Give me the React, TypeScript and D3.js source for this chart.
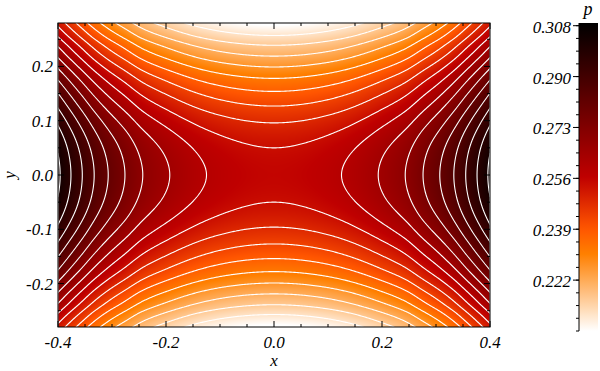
import React, { useMemo } from "react";
import * as d3 from "d3";

// ---- data ----
const X_RANGE = [-0.4, 0.4];
const Y_RANGE = [-0.28, 0.28];
const P_RANGE = [0.2049, 0.3075];
const pCenter = 0.2553;
// pressure along y = 0 (symmetric in x), at the contour crossings
const xKnots = [0, 0.125, 0.193, 0.243, 0.276, 0.307, 0.333, 0.355, 0.376, 0.396, 0.4];
const pAlongX = [0.2553, 0.2589, 0.2643, 0.2697, 0.2751, 0.2805, 0.2859, 0.2913, 0.2967, 0.3021, 0.3032];
// pressure along x = 0 (symmetric in y)
const yKnots = [0, 0.05, 0.096, 0.127, 0.154, 0.178, 0.199, 0.219, 0.239, 0.257, 0.276, 0.28];
const pAlongY = [0.2553, 0.2535, 0.2481, 0.2427, 0.2373, 0.2319, 0.2265, 0.2211, 0.2157, 0.2103, 0.2049, 0.2038];
const contourLevels = [
  0.2049, 0.2103, 0.2157, 0.2211, 0.2265, 0.2319, 0.2373, 0.2427, 0.2481, 0.2535,
  0.2589, 0.2643, 0.2697, 0.2751, 0.2805, 0.2859, 0.2913, 0.2967, 0.3021,
];
const xTickValues = [-0.4, -0.2, 0, 0.2, 0.4];
const xTickLabels = ["-0.4", "-0.2", "0.0", "0.2", "0.4"];
const xMinorTicks = [-0.35, -0.3, -0.25, -0.15, -0.1, -0.05, 0.05, 0.1, 0.15, 0.25, 0.3, 0.35];
const yTickValues = [-0.2, -0.1, 0, 0.1, 0.2];
const yTickLabels = ["-0.2", "-0.1", "0.0", "0.1", "0.2"];
const yMinorTicks = [-0.25, -0.15, -0.05, 0.05, 0.15, 0.25];
const cbTickValues = [0.222, 0.2391, 0.2562, 0.2733, 0.2904, 0.3075];
const cbTickLabels = ["0.222", "0.239", "0.256", "0.273", "0.290", "0.308"];

// ---- helpers ----
function monotoneInterp(xs: number[], ys: number[]) {
  const n = xs.length;
  const h: number[] = [];
  const dl: number[] = [];
  for (let i = 0; i < n - 1; i++) {
    h[i] = xs[i + 1] - xs[i];
    dl[i] = (ys[i + 1] - ys[i]) / h[i];
  }
  const m: number[] = new Array(n);
  m[0] = dl[0];
  m[n - 1] = dl[n - 2];
  for (let i = 1; i < n - 1; i++) {
    if (dl[i - 1] * dl[i] <= 0) m[i] = 0;
    else {
      const w1 = 2 * h[i] + h[i - 1];
      const w2 = h[i] + 2 * h[i - 1];
      m[i] = (w1 + w2) / (w1 / dl[i - 1] + w2 / dl[i]);
    }
  }
  return (x: number) => {
    let i = d3.bisectRight(xs, x) - 1;
    if (i < 0) i = 0;
    if (i > n - 2) i = n - 2;
    const t = (x - xs[i]) / h[i];
    const t2 = t * t, t3 = t2 * t;
    return (
      (2 * t3 - 3 * t2 + 1) * ys[i] +
      (t3 - 2 * t2 + t) * h[i] * m[i] +
      (-2 * t3 + 3 * t2) * ys[i + 1] +
      (t3 - t2) * h[i] * m[i + 1]
    );
  };
}

const fx = monotoneInterp(xKnots.map((v) => v * v), pAlongX);
const fy = monotoneInterp(yKnots.map((v) => v * v), pAlongY);
const field = (x: number, y: number) => fx(x * x) + fy(y * y) - pCenter;

function heatRGB(t: number): [number, number, number] {
  // t = 0 -> black, t = 1 -> white
  const r = Math.min(1, Math.max(0, 1.5 * t));
  const g = Math.min(1, Math.max(0, 2 * t - 1));
  const b = Math.min(1, Math.max(0, 4 * t - 3));
  return [Math.round(r * 255), Math.round(g * 255), Math.round(b * 255)];
}

const tScale = d3.scaleLinear().domain([P_RANGE[1], P_RANGE[0]]).range([0, 1]).clamp(true);
const colorOf = (p: number) => {
  const [r, g, b] = heatRGB(tScale(p));
  return `rgb(${r},${g},${b})`;
};

const W = 600;
const H = 371;
const PL = 58, PR = 490, PT = 23, PB = 327;
const CBX = 579, CBW = 19, CBT = 23, CBB = 331;

const xScale = d3.scaleLinear().domain(X_RANGE).range([PL, PR]);
const yScale = d3.scaleLinear().domain(Y_RANGE).range([PB, PT]);
const cbScale = d3.scaleLinear().domain(P_RANGE).range([CBB, 25.7]);

const TXT: React.CSSProperties = {
  fontFamily: '"Liberation Serif", "Times New Roman", "DejaVu Serif", serif',
  fontStyle: "italic",
  fontSize: "17px",
};

export default function App() {
  const imgURL = useMemo(() => {
    const w = PR - PL, h = PB - PT;
    const canvas = document.createElement("canvas");
    canvas.width = w;
    canvas.height = h;
    const ctx = canvas.getContext("2d")!;
    const img = ctx.createImageData(w, h);
    for (let j = 0; j < h; j++) {
      const y = yScale.invert(PT + j + 0.5);
      for (let i = 0; i < w; i++) {
        const x = xScale.invert(PL + i + 0.5);
        const [r, g, b] = heatRGB(tScale(field(x, y)));
        const k = (j * w + i) * 4;
        img.data[k] = r;
        img.data[k + 1] = g;
        img.data[k + 2] = b;
        img.data[k + 3] = 255;
      }
    }
    ctx.putImageData(img, 0, 0);
    return canvas.toDataURL();
  }, []);

  const contourPaths = useMemo(() => {
    const nx = PR - PL + 1, ny = PB - PT + 1;
    const values = new Float64Array(nx * ny);
    for (let j = 0; j < ny; j++) {
      const y = yScale.invert(PT + j);
      for (let i = 0; i < nx; i++) {
        values[j * nx + i] = field(xScale.invert(PL + i), y);
      }
    }
    const cs = d3.contours().size([nx, ny]).thresholds(contourLevels)(Array.from(values));
    const transform = d3.geoTransform({
      point(this: any, x: number, y: number) {
        this.stream.point(PL + x - 0.5, PT + y - 0.5);
      },
    });
    const path = d3.geoPath(transform);
    return cs.map((c) => path(c as any) || "");
  }, []);

  const cbStops = d3.range(0, 41).map((k) => {
    const p = P_RANGE[0] + (k / 40) * (P_RANGE[1] - P_RANGE[0]);
    return { offset: `${(k / 40) * 100}%`, color: colorOf(p) };
  });
  const cbMinor: number[] = [];
  const cbStep = (cbTickValues[1] - cbTickValues[0]) / 4;
  for (let k = -4; k <= 20; k++) {
    const v = cbTickValues[0] + k * cbStep;
    if (v >= P_RANGE[0] - 1e-6 && v <= P_RANGE[1] + 1e-6) cbMinor.push(v);
  }

  return (
    <svg
      width={W}
      height={H}
      style={{ position: "absolute", left: 0, top: 0, background: "#fff" }}
    >
      <defs>
        <clipPath id="plotClip">
          <rect x={PL} y={PT} width={PR - PL} height={PB - PT} />
        </clipPath>
        <linearGradient id="cbGrad" x1="0" y1="1" x2="0" y2="0" gradientUnits="objectBoundingBox">
          {cbStops.map((s, i) => (
            <stop key={i} offset={s.offset} stopColor={s.color} />
          ))}
        </linearGradient>
      </defs>
      <rect width={W} height={H} fill="#fff" />
      <image
        href={imgURL}
        x={PL}
        y={PT}
        width={PR - PL}
        height={PB - PT}
        preserveAspectRatio="none"
      />
      <g clipPath="url(#plotClip)">
        {contourPaths.map((d, i) => (
          <path key={i} d={d} fill="none" stroke="#fff" strokeWidth={1.1} />
        ))}
      </g>
      <rect x={PL} y={PT} width={PR - PL} height={PB - PT} fill="none" stroke="#000" strokeWidth={1} />
      {/* x ticks */}
      {xTickValues.map((v, i) => (
        <g key={"xt" + i}>
          <line x1={xScale(v)} x2={xScale(v)} y1={PB} y2={PB - 6} stroke="#000" />
          <line x1={xScale(v)} x2={xScale(v)} y1={PT} y2={PT + 6} stroke="#000" />
          <text x={xScale(v)} y={PB + 21} textAnchor="middle" style={TXT}>
            {xTickLabels[i]}
          </text>
        </g>
      ))}
      {xMinorTicks.map((v, i) => (
        <g key={"xm" + i}>
          <line x1={xScale(v)} x2={xScale(v)} y1={PB} y2={PB - 3} stroke="#000" />
          <line x1={xScale(v)} x2={xScale(v)} y1={PT} y2={PT + 3} stroke="#000" />
        </g>
      ))}
      {/* y ticks */}
      {yTickValues.map((v, i) => (
        <g key={"yt" + i}>
          <line x1={PL} x2={PL + 6} y1={yScale(v)} y2={yScale(v)} stroke="#000" />
          <line x1={PR} x2={PR - 6} y1={yScale(v)} y2={yScale(v)} stroke="#000" />
          <text x={53} y={yScale(v) + 6} textAnchor="end" style={TXT}>
            {yTickLabels[i]}
          </text>
        </g>
      ))}
      {yMinorTicks.map((v, i) => (
        <g key={"ym" + i}>
          <line x1={PL} x2={PL + 3} y1={yScale(v)} y2={yScale(v)} stroke="#000" />
          <line x1={PR} x2={PR - 3} y1={yScale(v)} y2={yScale(v)} stroke="#000" />
        </g>
      ))}
      <text x={xScale(0)} y={366} textAnchor="middle" style={TXT}>
        x
      </text>
      <text
        transform={`translate(15, ${yScale(0)}) rotate(-90)`}
        textAnchor="middle"
        style={TXT}
      >
        y
      </text>
      {/* colorbar */}
      <rect x={CBX} y={CBT} width={CBW} height={CBB - CBT} fill="url(#cbGrad)" />
      <line x1={CBX} x2={CBX} y1={CBT} y2={CBB} stroke="#000" />
      {cbMinor.map((v, i) => (
        <line key={"cm" + i} x1={CBX - 3} x2={CBX} y1={cbScale(v)} y2={cbScale(v)} stroke="#000" />
      ))}
      {cbTickValues.map((v, i) => (
        <g key={"ct" + i}>
          <line x1={CBX - 6} x2={CBX} y1={cbScale(v)} y2={cbScale(v)} stroke="#000" />
          <text x={571} y={cbScale(v) + 7} textAnchor="end" style={TXT}>
            {cbTickLabels[i]}
          </text>
        </g>
      ))}
      <text x={588} y={15} textAnchor="middle" style={{ ...TXT, fontSize: "18px" }}>
        p
      </text>
    </svg>
  );
}
